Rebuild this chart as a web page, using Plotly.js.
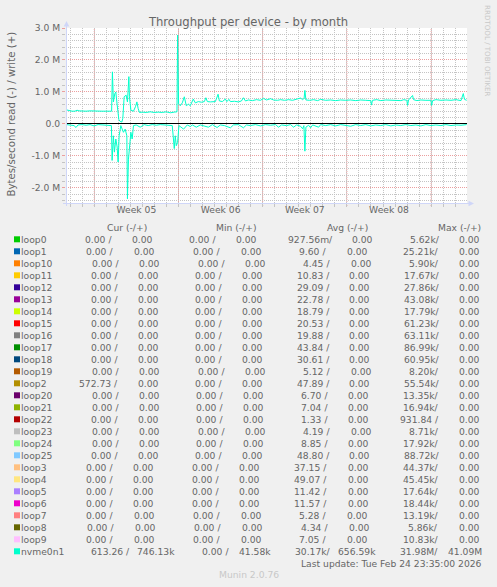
<!DOCTYPE html>
<html><head><meta charset="utf-8">
<script src="https://cdn.plot.ly/plotly-3.0.1.min.js"></script>
<style>html,body{margin:0;padding:0;background:#F0F0F0;}#chart{width:497px;height:587px;}</style>
</head><body><div id="chart"></div>
<script>
// ---------------- DATA ----------------
const startTime = '2026-01-22T15:35:00Z';
const endTime = '2026-02-24T23:35:00Z';
const weekStarts = ['2026-01-25', '2026-02-01', '2026-02-08', '2026-02-15', '2026-02-22'];
const weekLabels = ['Week 05', 'Week 06', 'Week 07', 'Week 08'];
const yTickVals = [-2, -1, 0, 1, 2, 3];
const yTickText = ['-2.0 M', '-1.0 M', '0.0', '1.0 M', '2.0 M', '3.0 M'];

// nvme0n1 write (+), hours since start, MB/s
const writeHours = [1,6,12,18,22,26,32,40,48,56,64,72,80,88,91,92.6,94.6,97.4,99.4,101.4,103.4,105.4,108,111.4,113.4,116,120,122.6,125.4,126.6,129.4,134.6,138.6,141.4,144,146.6,152,160,168,176,184,192,200,208,216,220,221.4,222.6,224.6,228,232,236,240,242.6,244,248,254,258,264,270,276,279,282,288,294,298,303.4,306,312,318,321,325,328,336,344,350,354,358,364,372,380,388,394,400,408,414,422,428,436,444,452,460,468,472,475,476.6,478.6,486,494,502,508,518,528,538,548,558,568,578,588,598,608,609.4,611.4,620,628,638,648,658,668,674,680,681.4,683.4,691.4,693.4,700,708,718,728,729.4,731.4,738,748,758,768,778,788,792.6,795,799.4];
const writeM = [0.44,0.42,0.40,0.40,0.43,0.41,0.40,0.40,0.41,0.40,0.41,0.40,0.40,0.40,0.40,1.63,0.69,0.95,1.00,0.69,0.35,0.14,0.08,0.06,0.18,0.85,0.90,0.69,1.48,0.85,0.43,0.40,0.54,0.69,0.48,0.36,0.37,0.36,0.38,0.36,0.37,0.36,0.38,0.35,0.37,0.36,0.38,2.78,0.63,0.57,0.66,0.85,0.57,0.60,0.62,0.57,0.78,0.66,0.70,0.68,0.70,0.82,0.70,0.69,0.71,0.70,0.93,0.72,0.70,0.78,0.70,0.77,0.70,0.71,0.69,0.72,0.82,0.72,0.75,0.73,0.76,0.74,0.80,0.75,0.79,0.75,0.74,0.76,0.74,0.76,0.74,0.77,0.81,0.76,0.80,1.05,0.75,0.74,0.76,0.73,0.77,0.74,0.75,0.73,0.75,0.74,0.75,0.73,0.75,0.74,0.73,0.59,0.74,0.76,0.73,0.75,0.74,0.75,0.73,0.76,0.74,0.58,0.75,0.89,0.76,0.73,0.75,0.74,0.74,0.58,0.73,0.76,0.74,0.75,0.74,0.76,0.73,0.95,0.77,0.74];

// nvme0n1 read (-), hours since start, MB/s (magnitude)
const readHours = [1,8,16,20,24,32,40,48,56,64,72,80,88,90.6,92,94.6,96.6,99.4,102,104,106,109.4,114.6,118,121.4,122.6,124.6,126.6,129.4,132,134.6,140,148,156,164,172,180,188,196,204,212,216,218,220,222.6,225.4,234.6,242,248,252,260,268,276,284,292,301.4,308,316,328,334,344,354,360,368,378,388,398,408,418,424,430,440,448,454,460,468,472,474.6,476.6,478.6,484,488,492,504,508,518,528,538,548,558,568,578,588,598,608,618,628,638,648,658,668,678,688,698,708,718,728,738,748,758,768,778,788,799.4];
const readM = [0.02,0.03,0.05,0.11,0.03,0.02,0.04,0.02,0.06,0.02,0.03,0.02,0.03,0.05,1.14,0.37,0.88,0.47,0.72,1.19,0.37,0.05,0.26,0.16,0.37,2.34,1.10,0.68,0.26,0.47,0.05,0.03,0.10,0.02,0.05,0.02,0.04,0.02,0.03,0.02,0.05,0.77,0.37,0.68,0.58,0.05,0.16,0.03,0.08,0.03,0.10,0.03,0.06,0.10,0.02,0.11,0.03,0.05,0.12,0.03,0.02,0.12,0.03,0.05,0.02,0.06,0.02,0.04,0.02,0.10,0.03,0.05,0.02,0.10,0.03,0.07,0.15,0.05,0.85,0.10,0.04,0.12,0.03,0.10,0.02,0.05,0.02,0.06,0.02,0.04,0.07,0.02,0.05,0.02,0.06,0.03,0.05,0.02,0.06,0.03,0.05,0.02,0.05,0.03,0.06,0.02,0.05,0.03,0.05,0.02,0.05,0.03,0.04,0.02];

// legend table
const names = ['loop0','loop1','loop10','loop11','loop12','loop13','loop14','loop15','loop16','loop17','loop18','loop19','loop2','loop20','loop21','loop22','loop23','loop24','loop25','loop3','loop4','loop5','loop6','loop7','loop8','loop9','nvme0n1'];
const colors = ['#00CC00','#0066B3','#FF8000','#FFCC00','#330099','#990099','#CCFF00','#FF0000','#808080','#008F00','#00487D','#B35A00','#B38F00','#6B006B','#8FB300','#B30000','#BEBEBE','#80FF80','#80C9FF','#FFC080','#FFE680','#AA80FF','#EE00CC','#FF8080','#666600','#FFBFFF','#00FFCC'];
const curRead  = [0,0,0,0,0,0,0,0,0,0,0,0,572.73,0,0,0,0,0,0,0,0,0,0,0,0,0,613.26];
const curWrite = [0,0,0,0,0,0,0,0,0,0,0,0,0,0,0,0,0,0,0,0,0,0,0,0,0,0,746130];
const minRead  = [0,0,0,0,0,0,0,0,0,0,0,0,0,0,0,0,0,0,0,0,0,0,0,0,0,0,0];
const minWrite = [0,0,0,0,0,0,0,0,0,0,0,0,0,0,0,0,0,0,0,0,0,0,0,0,0,0,41580];
const avgRead  = [0.92756,9.60,4.45,10.83,29.09,22.78,18.79,20.53,19.88,43.84,30.61,5.12,47.89,6.70,7.04,1.33,4.19,8.85,48.80,37.15,49.07,11.42,11.57,5.28,4.34,7.05,30170];
const avgWrite = [0,0,0,0,0,0,0,0,0,0,0,0,0,0,0,0,0,0,0,0,0,0,0,0,0,0,656590];
const maxRead  = [5620,25210,5900,17670,27860,43080,17790,61230,63110,86990,60950,8200,55540,13350,16940,931.84,8710,17920,88720,44370,45450,17640,18440,13190,5860,10830,31980000];
const maxWrite = [0,0,0,0,0,0,0,0,0,0,0,0,0,0,0,0,0,0,0,0,0,0,0,0,0,0,41090000];
const colHeaders = ['Cur (-/+)', 'Min (-/+)', 'Avg (-/+)', 'Max (-/+)'];
const lastUpdate = 'Last update: Tue Feb 24 23:35:00 2026';
const footer = 'Munin 2.0.76';
const watermark = 'RRDTOOL / TOBI OETIKER';
const chartTitle = 'Throughput per device - by month';
const yTitle = 'Bytes/second read (-) / write (+)';

// ---------------- LAYOUT HELPERS ----------------
const W = 497, H = 587;
const M = {l: 66, r: 30, t: 28, b: 384};
const PW = W - M.l - M.r, PH = H - M.t - M.b;
const px2x = px => (px - M.l) / PW;
const py2y = py => 1 - (py - M.t) / PH;
const FONT = 'DejaVu Sans';
const TXT = '#666666';
const GRID = '#c4c4c4';
const MGRID = '#eb9f9f';
const AXIS = '#CFD6F8';
const DASH = '1px,1px';

const t0 = Date.parse(startTime);
const toDate = h => new Date(t0 + h * 3600e3).toISOString().replace('T', ' ').slice(0, 19);
const dayMs = 864e5;
const weekMid = weekLabels.map((_, i) => new Date(Date.parse(weekStarts[i] + 'T00:00:00Z') + 3.5 * dayMs).toISOString().replace('T',' ').slice(0,19));

const traces = [
  {x: writeHours.map(toDate), y: writeM, type: 'scatter', mode: 'lines', line: {color: colors[26], width: 1}, hoverinfo: 'skip', showlegend: false},
  {x: readHours.map(toDate), y: readM.map(v => -v), type: 'scatter', mode: 'lines', line: {color: colors[26], width: 1}, hoverinfo: 'skip', showlegend: false}
];

const shapes = [];
const annotations = [];

// weekly major grid lines
weekStarts.forEach(ws => {
  shapes.push({type: 'line', xref: 'x', yref: 'paper', x0: ws, x1: ws, y0: -3 / PH, y1: 1, layer: 'between', line: {color: MGRID, width: 1, dash: DASH}});
});
// zero line (pixel-aligned)
shapes.push({type: 'line', xref: 'paper', yref: 'paper', x0: 0, x1: 1, y0: py2y(123.5), y1: py2y(123.5), layer: 'above', line: {color: '#000000', width: 1}});
// axis lines and arrows
shapes.push({type: 'line', xref: 'paper', yref: 'paper', x0: px2x(66.5), x1: px2x(66.5), y0: py2y(206), y1: py2y(24), layer: 'above', line: {color: AXIS, width: 1}});
shapes.push({type: 'line', xref: 'paper', yref: 'paper', x0: px2x(63), x1: px2x(470), y0: py2y(203.5), y1: py2y(203.5), layer: 'above', line: {color: AXIS, width: 1}});
shapes.push({type: 'path', xref: 'paper', yref: 'paper', layer: 'above', fillcolor: AXIS, line: {width: 0},
  path: `M ${px2x(63.7)} ${py2y(26.5)} L ${px2x(69.3)} ${py2y(26.5)} L ${px2x(66.5)} ${py2y(21)} Z`});
shapes.push({type: 'path', xref: 'paper', yref: 'paper', layer: 'above', fillcolor: AXIS, line: {width: 0},
  path: `M ${px2x(468.5)} ${py2y(200.7)} L ${px2x(468.5)} ${py2y(206.3)} L ${px2x(474)} ${py2y(203.5)} Z`});

// ---------------- LEGEND (rrdtool-like justified lines) ----------------
const LF = 9.2, L0 = 20.7, R0 = 482, INTERLEG = 14, LABEL_EXTRA = 5;
const ROW0 = 239.3, ROWH = 12;
const ctx = document.createElement('canvas').getContext('2d');
ctx.font = LF + "px '" + FONT + "'";
const tw = s => ctx.measureText(s).width;
function si(v) {
  if (v === 0) return [0, ' '];
  const pre = [[1e9, 'G'], [1e6, 'M'], [1e3, 'k'], [1, ' '], [1e-3, 'm']];
  for (const [m, s] of pre) if (Math.abs(v) >= m) return [v / m, s];
  return [v, ' '];
}
function fmt(v) { const [n, s] = si(v); let t = n.toFixed(2); while (t.length < 6) t = ' ' + t; return t + s; }
const nb = s => s.replace(/ /g, '\u00a0');
function legText(txt, px, py, opts) {
  annotations.push(Object.assign({xref: 'paper', yref: 'paper', x: px2x(px), y: py2y(py), xanchor: 'left', yanchor: 'middle',
    text: nb(txt), showarrow: false, borderpad: 0, borderwidth: 0, font: {family: FONT, size: LF, color: TXT}}, opts || {}));
}

names.forEach((name, i) => {
  const py = ROW0 + ROWH * i;
  shapes.push({type: 'rect', xref: 'paper', yref: 'paper', x0: px2x(14), x1: px2x(20), y0: py2y(py + 3), y1: py2y(py - 3), fillcolor: colors[i], line: {width: 0}});
  const items = [{t: name, w: tw(name) + LABEL_EXTRA, g: false}];
  [[curRead, curWrite], [minRead, minWrite], [avgRead, avgWrite], [maxRead, maxWrite]].forEach(([r, w]) => {
    const rt = fmt(r[i]) + '/', wt = fmt(w[i]);
    items.push({t: rt, w: tw(rt), g: true});
    items.push({t: wt, w: tw(wt), g: false});
  });
  let total = 0;
  items.forEach((it, k) => { total += it.w; if (k < items.length - 1 && !it.g) total += INTERLEG; });
  const glue = (R0 - L0 - total) / (items.length - 1);
  let x = L0;
  items.forEach(it => {
    const lead = it.t.length - it.t.trimStart().length;
    legText(it.t.trim(), x + tw(it.t.slice(0, lead)), py);
    x += it.w + glue + (it.g ? 0 : INTERLEG);
  });
});
const headerCenters = [126.5, 236.7, 347.5, 459.7];
colHeaders.forEach((h, k) => legText(h, headerCenters[k], ROW0 - ROWH, {xanchor: 'center'}));
legText(lastUpdate, R0, ROW0 + ROWH * names.length, {xanchor: 'right'});
legText(footer, 248.5, 574.3, {xanchor: 'center', font: {family: FONT, size: LF, color: '#c8c8c8'}});

// y axis title and watermark
annotations.push({xref: 'paper', yref: 'paper', x: px2x(10.5), y: py2y(114), xanchor: 'center', yanchor: 'middle', textangle: -90,
  text: yTitle, showarrow: false, borderpad: 0, borderwidth: 0, font: {family: FONT, size: 10.2, color: TXT}});
annotations.push({xref: 'paper', yref: 'paper', x: px2x(486.7), y: py2y(50.8), xanchor: 'center', yanchor: 'middle', textangle: 90,
  text: watermark, showarrow: false, borderpad: 0, borderwidth: 0, font: {family: FONT, size: 7.1, color: '#c8c8c8'}});

const layout = {
  width: W, height: H, autosize: false,
  paper_bgcolor: '#F0F0F0', plot_bgcolor: '#FFFFFF',
  margin: M, showlegend: false,
  font: {family: FONT, size: LF, color: TXT},
  title: {text: chartTitle, x: 0.5, xref: 'container', xanchor: 'center', y: 1 - 21.5 / H, yref: 'container', yanchor: 'middle',
    font: {family: FONT, size: 11.6, color: TXT}},
  xaxis: {type: 'date', range: [toDate(0), new Date(Date.parse(endTime)).toISOString().replace('T',' ').slice(0,19)], automargin: false,
    tickmode: 'array', tickvals: weekMid, ticktext: weekLabels, ticks: '', showgrid: false, zeroline: false, showline: false,
    tickfont: {family: FONT, size: LF, color: TXT},
    minor: {tickmode: 'linear', tick0: '2026-01-23', dtick: dayMs, showgrid: true, gridcolor: GRID, griddash: DASH, gridwidth: 1,
      ticks: 'outside', ticklen: 3, tickcolor: GRID, tickwidth: 1}},
  yaxis: {range: [-2.47, 3.0], automargin: false, tickmode: 'array', tickvals: yTickVals, ticktext: yTickText,
    showgrid: true, gridcolor: MGRID, griddash: DASH, gridwidth: 1, zeroline: false, showline: false,
    ticks: 'outside', ticklen: 3, tickcolor: MGRID, tickwidth: 1,
    tickfont: {family: FONT, size: LF, color: TXT},
    minor: {tickmode: 'linear', tick0: 0, dtick: 0.2, showgrid: true, gridcolor: GRID, griddash: DASH, gridwidth: 1,
      ticks: 'outside', ticklen: 3, tickcolor: GRID, tickwidth: 1}},
  shapes: shapes,
  annotations: annotations
};

Plotly.newPlot('chart', traces, layout, {staticPlot: true, displayModeBar: false});
</script>
</body></html>
